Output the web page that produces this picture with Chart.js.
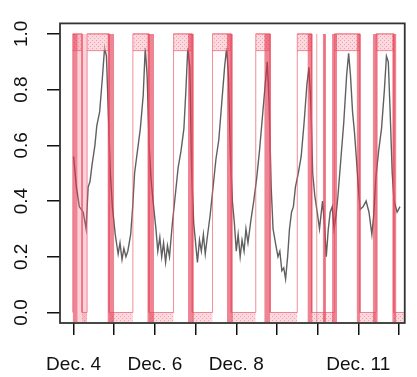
<!DOCTYPE html>
<html><head><meta charset="utf-8">
<script src="https://cdn.jsdelivr.net/npm/chart.js@4/dist/chart.umd.min.js"></script>
<style>html,body{margin:0;padding:0;background:#fff;}#wrap{width:417px;height:377px;}</style>
</head><body><div id="wrap"><canvas id="c" width="417" height="377"></canvas></div>
<script>
// hours after Dec. 4 00:00
const grayHours = [0,1.7,3.4,5.7,7.4,8.6,9.7,10.9,12.6,13.7,
15.4,17.1,18.3,19.4,20.6,21.7,22.9,24.6,26.3,27.4,
28.6,29.7,30.9,32,33.7,34.9,36,37.7,39.4,41.1,
42.3,43.4,44.6,45.7,46.9,48.6,49.7,50.9,52,53.1,
54.3,55.4,56.6,58.3,60,61.7,63.4,65.1,66.3,67.4,
68.6,69.7,70.9,72,73.1,74.3,75.4,76.6,77.7,78.9,
80.6,82.3,84,85.7,87.4,89.1,90.3,91.4,92.6,93.7,
94.9,96,97.1,98.3,99.4,100.6,101.7,102.9,104.6,106.3,
108,109.7,111.4,113.1,114.3,115.4,116.6,117.7,119.4,120.6,
121.7,122.9,124,125.1,126.3,127.4,128.6,129.7,130.9,132.6,
134.3,136,137.7,138.9,140,141.1,142.3,144,145.1,146.9,
148,149.1,150.3,151.4,152.6,153.7,154.9,156,157.7,159.4,
161.1,162.3,163.4,164.6,165.7,166.9,168,169.1,170.9,172.6,
174.3,176,177.1,178.3,180,181.7,183.4,184.6,185.7,186.9,
188,189.1,190.9,192.6];
const grayValues = [0.56,0.45,0.38,0.36,0.30,0.45,0.47,0.53,0.60,0.67,
0.72,0.85,0.95,0.92,0.70,0.50,0.38,0.28,0.21,0.25,
0.19,0.23,0.20,0.22,0.28,0.38,0.50,0.58,0.66,0.78,
0.95,0.85,0.60,0.48,0.40,0.30,0.22,0.27,0.20,0.25,
0.18,0.24,0.20,0.32,0.42,0.52,0.58,0.66,0.80,0.95,
0.88,0.50,0.32,0.25,0.18,0.26,0.22,0.28,0.21,0.27,
0.35,0.45,0.55,0.62,0.75,0.88,0.95,0.85,0.55,0.40,
0.32,0.22,0.28,0.20,0.26,0.22,0.30,0.25,0.33,0.40,
0.48,0.58,0.70,0.82,0.90,0.75,0.45,0.30,0.24,0.20,
0.22,0.15,0.16,0.12,0.20,0.30,0.36,0.38,0.45,0.50,
0.56,0.68,0.82,0.88,0.75,0.50,0.42,0.35,0.30,0.40,
0.32,0.20,0.30,0.36,0.38,0.30,0.35,0.42,0.55,0.68,
0.85,0.93,0.85,0.72,0.65,0.55,0.45,0.37,0.38,0.40,
0.36,0.28,0.35,0.48,0.58,0.66,0.80,0.92,0.90,0.70,
0.50,0.40,0.36,0.38];
const onStarts = [-0.5, 8, 35, 59, 82, 107.5, 132, 154, 178.5];
const onEnds   = [5, 21, 44.5, 70, 93, 116, 140.5, 169, 189];
const seriesEnd = 196;
const barStarts = [-0.5, 20, 43.5, 67.5, 90.5, 112.5, 138, 147, 152.5, 167, 176.5, 188];
const barEnds   = [2.5, 24, 47.5, 71, 94, 116, 141, 149, 155.5, 169, 179.5, 190.5];
const softBarStarts = [2.5];
const softBarEnds = [8];
const extraLines = [143.5, 148];
const dayTicks = [0,24,48,72,96,120,144,168,192];
const dayLabels = ['Dec. 4','','Dec. 6','','Dec. 8','','','Dec. 11',''];
const yTicks = [0,0.2,0.4,0.6,0.8,1.0];
const bandTop = 0.94, bandFloor = -0.034;

function hatch(base, dot){
  const p=document.createElement('canvas'); p.width=4; p.height=4;
  const g=p.getContext('2d');
  g.fillStyle=base; g.fillRect(0,0,4,4);
  g.fillStyle=dot; g.fillRect(0,0,1,1); g.fillRect(2,2,1,1);
  return g.createPattern(p,'repeat');
}
const ctx=document.getElementById('c').getContext('2d');
const pat = hatch('rgba(250,185,195,0.55)','rgba(238,120,135,0.6)');

const gray = grayHours.map((h,i)=>({x:h,y:grayValues[i]}));
const stateLine=[];
onStarts.forEach((s,i)=>{stateLine.push({x:s,y:0},{x:s,y:1},{x:onEnds[i],y:1},{x:onEnds[i],y:0});});
stateLine.push({x:seriesEnd,y:0});
const topBand=[], topEdge=[];
onStarts.forEach((s,i)=>{topBand.push({x:s,y:1},{x:onEnds[i],y:1},{x:onEnds[i],y:null});
  topEdge.push({x:s,y:bandTop},{x:onEnds[i],y:bandTop},{x:onEnds[i],y:null});});
const botBand=[];
onEnds.forEach((e,i)=>{const n = i+1<onStarts.length?onStarts[i+1]:seriesEnd;
  botBand.push({x:e,y:0},{x:n,y:0},{x:n,y:null});});
function rects(a,b){const r=[];a.forEach((s,i)=>{r.push({x:s,y:1},{x:b[i],y:1},{x:b[i],y:null});});return r;}
const vlines=[];extraLines.forEach(x=>{vlines.push({x:x,y:bandFloor},{x:x,y:1},{x:x,y:null});});

const boxPlugin={id:'box',afterDatasetsDraw(c){const a=c.chartArea,g=c.ctx;g.save();g.strokeStyle='#333';g.lineWidth=1.8;
  g.strokeRect(a.left,a.top,a.right-a.left,a.bottom-a.top);g.restore();}};

const font={family:'"Liberation Sans", Arial, sans-serif',size:19};
new Chart(ctx,{
  type:'line',
  data:{datasets:[
    {data:vlines,borderColor:'rgba(235,90,110,0.6)',borderWidth:1,fill:false,order:1},
    {data:stateLine,borderColor:'rgba(235,80,100,0.65)',borderWidth:1,fill:false,order:1},
    {data:topEdge,borderColor:'rgba(235,80,100,0.65)',borderWidth:1,fill:false,order:1},
    {data:rects(barStarts,barEnds),borderWidth:0,borderColor:'rgba(0,0,0,0)',backgroundColor:'rgba(225,45,70,0.58)',fill:{value:bandFloor},order:2},
    {data:rects(softBarStarts,softBarEnds),borderWidth:0,borderColor:'rgba(0,0,0,0)',backgroundColor:'rgba(240,110,125,0.3)',fill:{value:bandFloor},order:3},
    {data:topBand,borderColor:'rgba(235,90,110,0.5)',borderWidth:1,backgroundColor:pat,fill:{value:bandTop},order:4},
    {data:botBand,borderWidth:0,borderColor:'rgba(0,0,0,0)',backgroundColor:pat,fill:{value:bandFloor},order:4},
    {data:gray,borderColor:'#606060',borderWidth:1.4,fill:false,order:5}
  ]},
  options:{
    responsive:false,animation:false,events:[],
    layout:{padding:{top:9,right:1,left:0,bottom:0}},
    plugins:{legend:{display:false},tooltip:{enabled:false}},
    elements:{point:{radius:0},line:{tension:0}},
    scales:{
      x:{type:'linear',min:-8,max:195.4,
        afterBuildTicks:s=>{s.ticks=dayTicks.map(v=>({value:v}));},
        afterFit:s=>{s.height=54;},
        ticks:{autoSkip:false,maxRotation:0,minRotation:0,padding:18,color:'#111',font:font,
          callback:(v)=>{const i=dayTicks.indexOf(v);return i>=0?dayLabels[i]:'';}},
        grid:{drawOnChartArea:false,drawTicks:true,tickLength:12,color:'#111',lineWidth:1.5},
        border:{display:false}},
      y:{type:'linear',min:-0.0377,max:1.0377,
        afterBuildTicks:s=>{s.ticks=yTicks.map(v=>({value:v}));},
        afterFit:s=>{s.width=60;},
        ticks:{minRotation:90,maxRotation:90,crossAlign:'center',padding:12,color:'#111',font:font,
          callback:(v)=>Number(v).toFixed(1)},
        grid:{drawOnChartArea:false,drawTicks:true,tickLength:13,color:'#111',lineWidth:1.5},
        border:{display:false}}
    }
  },
  plugins:[boxPlugin]
});
</script></body></html>
